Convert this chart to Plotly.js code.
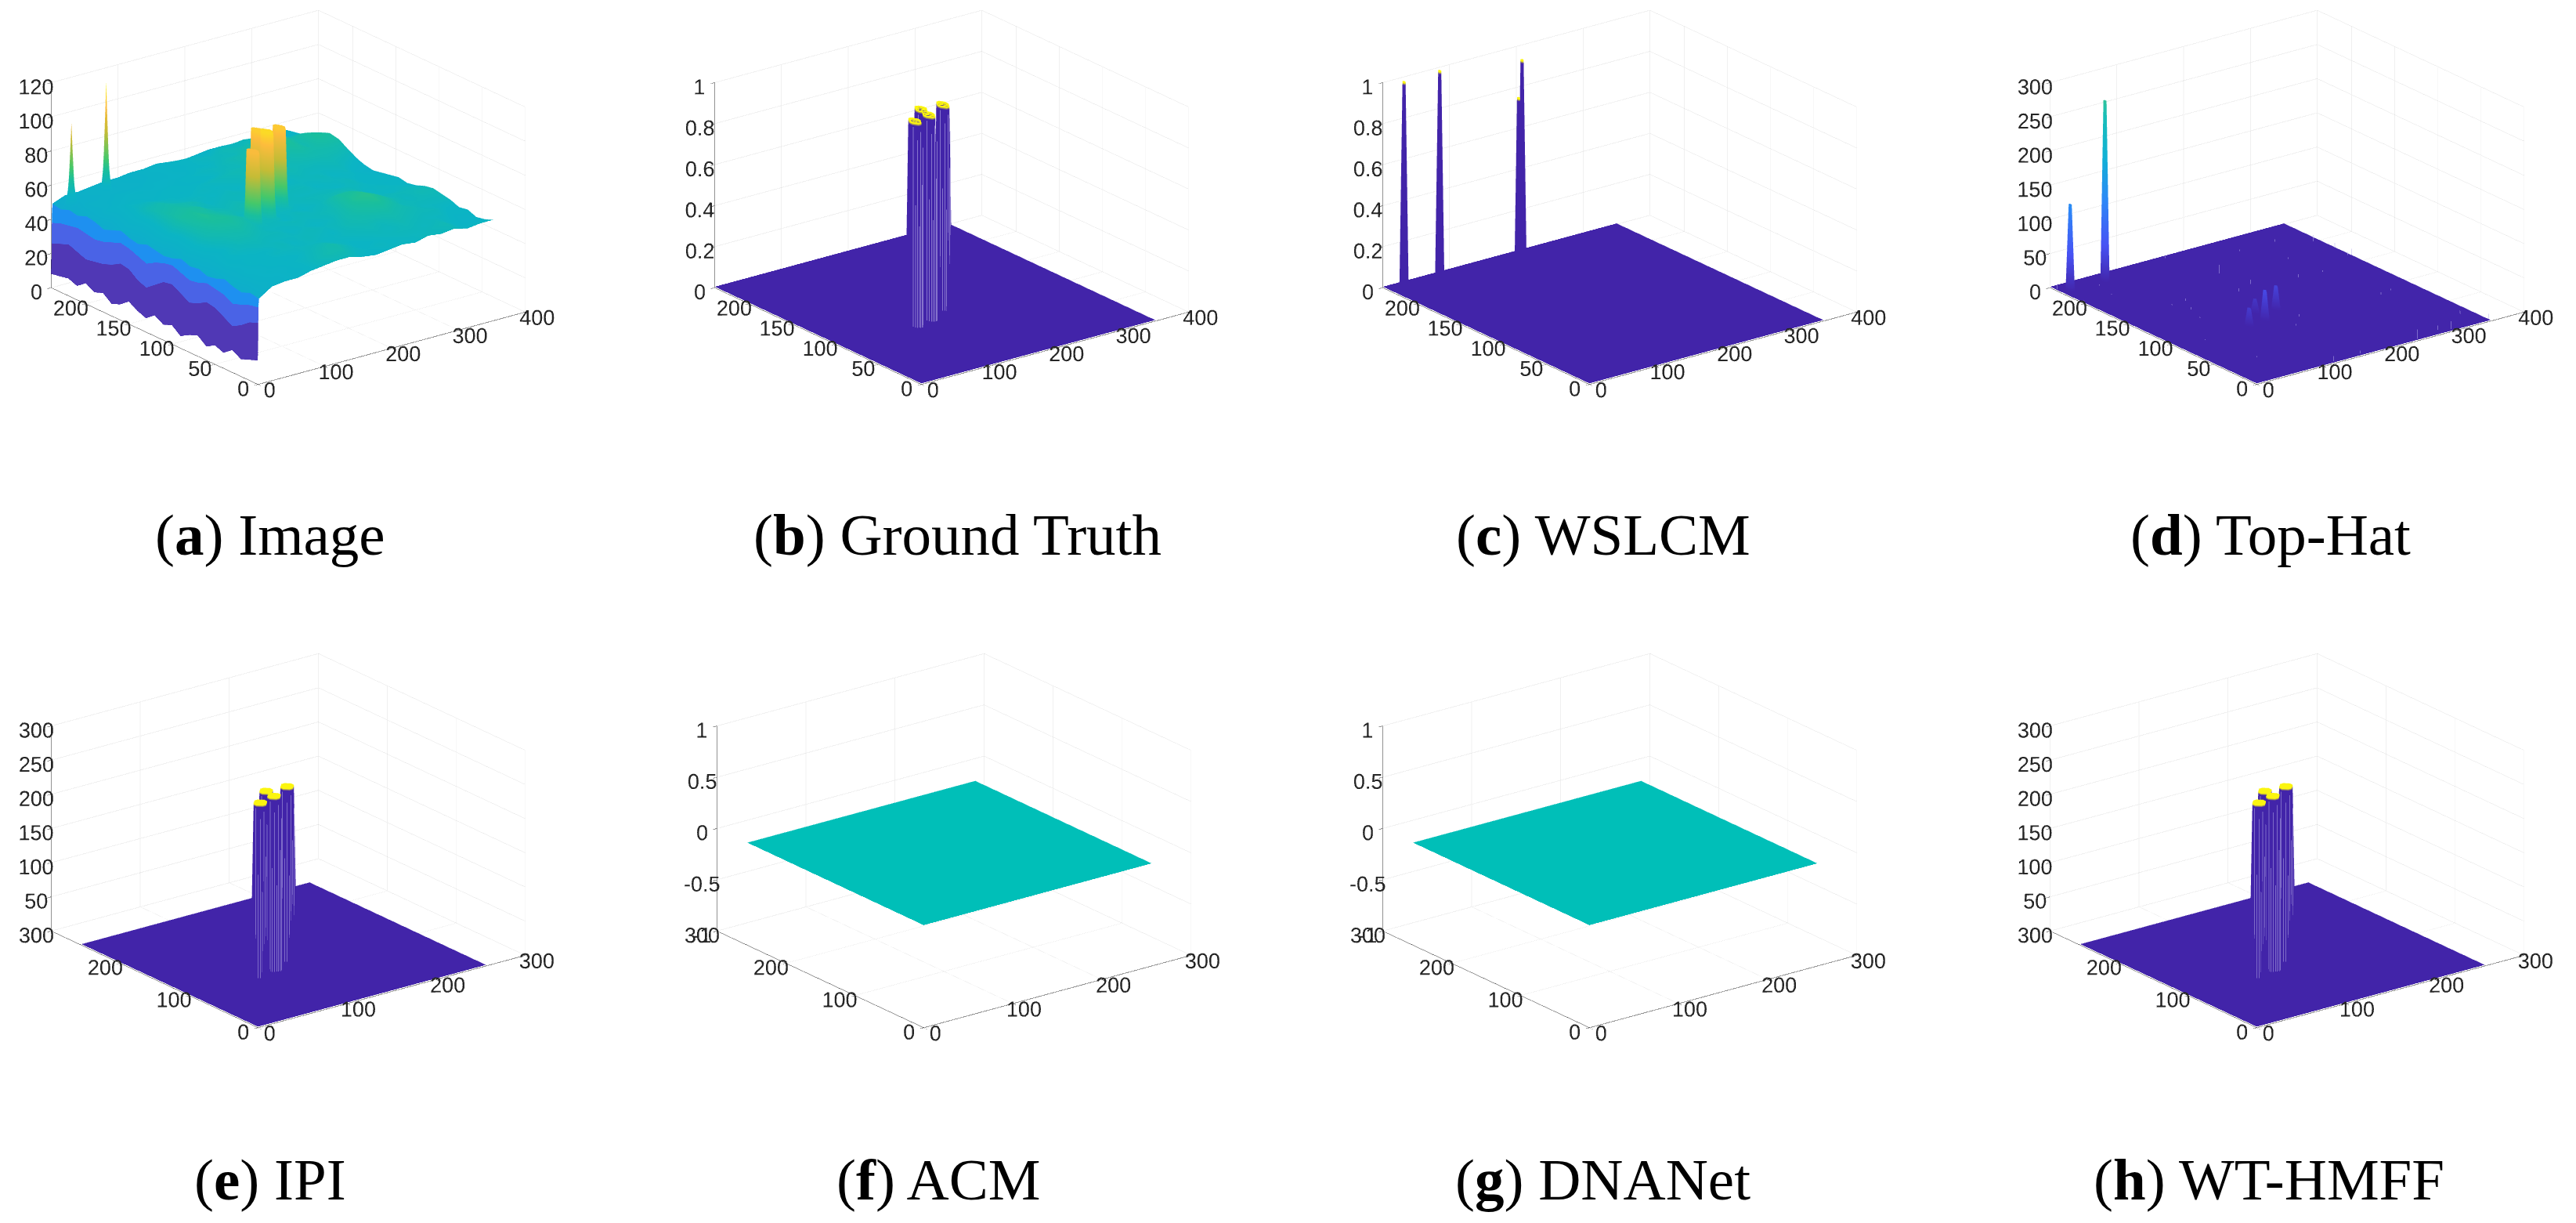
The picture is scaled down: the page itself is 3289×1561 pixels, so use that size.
<!DOCTYPE html>
<html><head><meta charset="utf-8">
<script src="https://cdn.plot.ly/plotly-3.0.1.min.js"></script>
<style>html,body{margin:0;padding:0;background:#fff;overflow:hidden}#p{width:3289px;height:1561px}</style>
</head><body><div id="p"></div>
<script>
const captions=['a','b','c','d','e','f','g','h'];
const captionNames=['Image','Ground Truth','WSLCM','Top-Hat','IPI','ACM','DNANet','WT-HMFF'];
const imgY=[0,10,20,30,40,50,60,70,80,90,100,110,120,130,140,150,160,170,180,190,200,210,220,230,240];
const imgX=[1.5,21,40.5,60,79.5,99,118.5,138,157.5,177,196.5,216,235.5,255,274.5,294,313.5,333,352.5];
const imgZ=[
[50,51,49,50,52,50,49,51,50,52,50,49,50,51,49,50,52,50,48,50,51,49,50,48,49],
[55,54,55,56,55,57,56,55,57,58,57,56,58,57,56,55,56,55,54,55,53,54,52,53,52],
[56,55,57,56,58,57,59,58,60,62,63,64,65,64,63,62,61,59,58,56,55,54,53,54,52],
[56,57,56,58,57,58,59,61,62,64,66,67,66,65,64,63,62,60,58,57,56,55,54,55,53],
[58,57,58,57,59,58,60,61,63,65,66,65,64,65,63,62,60,59,57,56,57,55,54,53,54],
[59,60,59,58,59,60,59,60,61,63,64,63,62,61,60,61,59,58,58,57,56,55,54,55,54],
[60,62,61,60,59,58,59,60,59,60,61,60,61,60,59,58,59,58,57,58,56,56,55,54,55],
[60,62,63,61,59,60,59,58,59,60,61,60,62,61,60,59,58,59,58,57,57,56,55,56,55],
[58,59,60,59,58,59,60,59,60,58,59,60,61,60,59,60,59,58,59,57,58,56,57,56,56],
[57,58,57,58,59,58,59,58,59,60,59,60,59,61,60,59,58,59,60,58,59,58,57,58,55],
[58,59,58,59,60,61,60,59,60,59,58,59,60,59,61,60,59,60,61,60,59,58,59,58,54],
[59,58,59,60,61,62,63,62,61,60,59,60,59,60,59,60,61,62,61,60,61,60,59,57,55],
[58,59,60,59,60,63,65,67,66,65,61,60,59,60,59,58,60,61,62,63,62,60,61,59,56],
[60,59,60,61,62,64,67,68,67,65,62,60,59,58,59,60,61,60,61,62,64,63,60,59,56],
[59,60,59,60,61,62,64,65,64,62,61,60,58,59,60,59,60,61,62,65,66,64,61,60,55],
[60,61,60,59,60,61,60,61,60,59,58,59,60,59,58,59,60,62,64,66,67,65,62,59,54],
[58,57,58,59,60,59,60,59,60,58,59,58,57,58,59,60,61,62,63,62,63,61,58,57,55],
[59,57,56,57,58,59,60,61,60,59,58,57,58,57,56,58,60,62,64,66,65,62,58,56,55],
[59,57,56,58,57,59,60,61,60,58,57,58,57,56,55,56,58,61,64,65,63,60,57,56,55]];
const wallBottom=[14,12,10,13,9,11,8,12,10,7,11,9,12,8,10,13,9,7,11,9,12,8,10,9,8];
const wallPurple=[36,34,30,27,30,33,34,31,29,32,35,34,30,26,28,32,33,30,28,27,26,28,30,28,26];
const wallBlue=[45,44,42,40,43,44,45,43,42,44,46,45,43,40,42,44,45,43,41,40,41,42,41,40,38];
const imgSpikeX=[11,63], imgSpikeY=[225,225], imgSpikeZ=[99,118];
const spikeProfX=[0,.1,.25,.45,1,.45,.25,.1,0], spikeProfY=[0,.5,1,.5,0];
const gtX=[114,140,144,174], gtY=[95,99,112,110];
const imgTargetZ=[102,110,107,106];
const wslcmX=[24,79,100,180], wslcmY=[233,236,160,218], wslcmZ=[1,1,1,1];
const topHatX=[11,63], topHatY=[225,225], topHatZ=[128,266];
const topHatBlobX=[110,141,136,167], topHatBlobY=[93,112,96,108], topHatBlobZ=[27,21,45,36];
const speckX=[188,341,349,350,346,350,295,243,280,118,159,196,254,298,2,167,1,100,87,79,78,304,252,282,288,169,315,334,176,154,39,53,50,42];
const speckY=[189,199,180,161,163,2,3,2,7,2,3,159,149,87,233,236,201,160,144,127,159,215,215,182,147,152,89,23,87,74,90,41,221,201];
const speckZ=[14,11,9,11,6,10,13,15,8,9,6,8,6,5,9,5,4,5,5,3,3,5,4,4,4,6,4,6,5,4,3,3,3,3];
const ipiX=[80,102,100,124], ipiY=[100,120,105,118], ipiZ=[255,255,255,255];
const stripeDX=[-7,-6,-4.5,-3,-1.5,.5,2], stripeDY=[-2.5,-4.5,-6,-6.8,-7.3,-7.5,-7.2], stripeTop=[.98,.6,.92,.5,.96,.7,.88];
const xTicks400=[0,100,200,300,400], yTicks240=[0,50,100,150,200], xyTicks300=[0,100,200,300];
const zTicksImg=[0,20,40,60,80,100,120], zTicks1=[0,0.2,0.4,0.6,0.8,1], zTicks300=[0,50,100,150,200,250,300], zTicksFlat=[-1,-0.5,0,0.5,1];
const zLabelsFlat=['-1','-0.5','0','0.5','1'];
const discMask=[[0,0,1,1,1,0,0],[0,1,1,1,1,1,0],[1,1,1,1,1,1,1],[1,1,1,1,1,1,1],[1,1,1,1,1,1,1],[0,1,1,1,1,1,0],[0,0,1,1,1,0,0]];
const pinMask=[[1,1],[1,1]];
const crossMask=[[0,1,0],[1,1,1],[0,1,0]];
const plane0=[[0,0],[0,0]];

const W=3289,H=1561;
const parula=[[0,'#4224a9'],[.11,'#4752f4'],[.24,'#2d87f7'],[.365,'#11b1d6'],[.49,'#19bfb7'],[.62,'#5cc863'],[.75,'#c4bc36'],[.875,'#fdbc3c'],[1,'#f9fb0e']];
const imgScale=[[0,'#4224a9'],[.11,'#4752f4'],[.24,'#2d87f7'],[.365,'#11a8d0'],[.49,'#0bb4c4'],[.56,'#1abf9c'],[.62,'#45c86a'],[.75,'#c4bc36'],[.875,'#fdbc3c'],[1,'#f9fb0e']];
const baseScale=[[0,'#4224a9'],[.985,'#4224a9'],[.995,'#fbf50f'],[1,'#fbf50f']];
const wallScale=[[0,'#5038b5'],[.333,'#5038b5'],[.334,'#4a63e6'],[.666,'#4a63e6'],[.667,'#1e90f0'],[1,'#1e90f0']];
const light={ambient:1,diffuse:0,specular:0,roughness:1,fresnel:0};
const noHi={x:{highlight:false},y:{highlight:false},z:{highlight:false}};
const common={type:'surface',showscale:false,lighting:light,hoverinfo:'skip',contours:noHi};
const T=m=>m[0].map((_,j)=>m.map(r=>r[j]));
function axisGrid(a,b,s){const o=[];for(let v=a;v<=b;v+=s)o.push(v);return o;}
function fill(xs,ys,v){return ys.map(()=>xs.map(()=>v));}
function stamp(z,xs,ys,cx,cy,mask,top){
  const i0=Math.round((cx-xs[0])/(xs[1]-xs[0])),j0=Math.round((cy-ys[0])/(ys[1]-ys[0]));
  const o=Math.floor(mask.length/2);
  mask.forEach((r,a)=>r.forEach((m,b)=>{if(m){const row=z[j0+a-o];if(row&&(i0+b-o)<row.length&&(i0+b-o)>=0)row[i0+b-o]=top;}}));
}
function plane(sc,x,y,z,cs,cmin,cmax,extra){return Object.assign({},common,{scene:sc,x,y,z,colorscale:cs,cmin,cmax},extra||{});}
function solid(c){return [[0,c],[1,c]];}
function vlines(sc,xs,ys,z0,z1,color,width){
  const X=[],Y=[],Z=[];
  xs.forEach((_,i)=>{X.push(xs[i],xs[i],null);Y.push(ys[i],ys[i],null);Z.push(z0,z1[i],null);});
  return {type:'scatter3d',mode:'lines',scene:sc,x:X,y:Y,z:Z,line:{color,width},hoverinfo:'skip',showlegend:false};
}
function stripes(sc,cxs,cys,top,color){
  const xs=[],ys=[],zs=[];
  cxs.forEach((cx,i)=>stripeDX.forEach((d,k)=>{xs.push(cx+d);ys.push(cys[i]+stripeDY[k]);zs.push(top*stripeTop[k]);}));
  return vlines(sc,xs,ys,top*.005,zs,color,1);
}
const traces=[];
// (a)
traces.push(plane('scene',imgX,imgY,T(imgZ),imgScale,0,118));
{ const rows=[wallBottom,wallPurple,wallBlue,imgZ[0]];
  traces.push(plane('scene',[0,.5,1,1.5],imgY,T(rows),wallScale,0,3,{surfacecolor:T(rows.map((r,k)=>r.map(()=>k)))})); }
{ const xs=axisGrid(3,191,2), ys=axisGrid(79,229,2), z=fill(xs,ys,null);
  imgSpikeX.forEach((cx,n)=>{const i0=(cx-xs[0])/2,j0=(imgSpikeY[n]-ys[0])/2;spikeProfY.forEach((py,j)=>spikeProfX.forEach((px,i)=>{z[j0+j-2][i0+i-4]=50+(imgSpikeZ[n]-50)*px*py;}));});
  gtX.forEach((cx,n)=>{const m=[];for(let a=0;a<11;a++)m.push([1,1,1,1,1,1,1,1,1,1,1]);stamp(z,xs,ys,cx,gtY[n],m,60);});
  gtX.forEach((cx,n)=>stamp(z,xs,ys,cx,gtY[n],discMask,imgTargetZ[n]));
  traces.push(plane('scene',xs,ys,z,imgScale,0,118)); }
// grids for flat maps
const gx350=axisGrid(0,350,2), gy240=axisGrid(0,240,2), g256=axisGrid(0,256,2);
// (b)
{ const z=fill(gx350,gy240,.005); gtX.forEach((cx,i)=>stamp(z,gx350,gy240,cx,gtY[i],discMask,1));
  traces.push(plane('scene2',gx350,gy240,z,baseScale,0,1));
  traces.push(stripes('scene2',gtX,gtY,1,'#c9c2ee')); }
// (c)
{ const z=fill(gx350,gy240,.005); wslcmX.forEach((cx,i)=>stamp(z,gx350,gy240,cx,wslcmY[i],pinMask,wslcmZ[i]));
  traces.push(plane('scene3',gx350,gy240,z,baseScale,0,1)); }
// (d)
{ const z=fill(gx350,gy240,1.5); topHatX.forEach((cx,i)=>stamp(z,gx350,gy240,cx,topHatY[i],pinMask,topHatZ[i]));
  topHatBlobX.forEach((cx,i)=>stamp(z,gx350,gy240,cx,topHatBlobY[i],crossMask,topHatBlobZ[i]));
  traces.push(plane('scene4',gx350,gy240,z,parula,0,500));
  traces.push(vlines('scene4',speckX,speckY,1.5,speckZ,'#b9b0ee',1)); }
// (e) (h)
['scene5','scene8'].forEach(s=>{
  const z=fill(g256,g256,1.5); ipiX.forEach((cx,i)=>stamp(z,g256,g256,cx,ipiY[i],discMask,ipiZ[i]));
  traces.push(plane(s,g256,g256,z,baseScale,0,255));
  traces.push(stripes(s,ipiX,ipiY,255,'#b9b2e6'));
});
// (f) (g)
const teal=solid('#00bfb8');
traces.push(plane('scene6',[0,256],[0,256],plane0,teal,-1,1));
traces.push(plane('scene7',[0,256],[0,256],plane0,teal,-1,1));

const tf={family:'Liberation Sans, Arial, sans-serif',size:18,color:'#262626'};
function ax(range,tickvals,line,labels){const a={range,tickvals,tickmode:'array',tickangle:0,title:{text:''},tickfont:tf,gridcolor:'#e2e2e2',gridwidth:1,showline:line!==false,linecolor:'#262626',linewidth:1,ticks:'outside',ticklen:6,tickcolor:'#262626',tickwidth:1,zeroline:false,showbackground:false,showspikes:false,autorange:false};if(labels)a.ticktext=labels;return a;}
const DIST=3, ZOOM=1.5315;
const dirE=[-.566,-.7438,.3558];
function scene(cx,cy,xa,ya,za,shift){
  const hw=365,hh=280;
  return {domain:{x:[(cx-hw)/W,(cx+hw)/W],y:[1-(cy+hh)/H,1-(cy-hh)/H]},
    xaxis:xa,yaxis:ya,zaxis:za,
    aspectmode:'manual',aspectratio:{x:ZOOM,y:1.017*ZOOM,z:.653*ZOOM},bgcolor:'rgba(0,0,0,0)',
    camera:{projection:{type:'orthographic'},eye:{x:dirE[0]*DIST,y:dirE[1]*DIST,z:dirE[2]*DIST+shift},center:{x:0,y:0,z:shift},up:{x:0,y:0,z:1}}};
}
const sh=-.1073;
const layout={width:W,height:H,margin:{l:0,r:0,t:0,b:0},paper_bgcolor:'#fff',showlegend:false,
 scene:scene(367.5,280,ax([0,400],xTicks400),ax([0,240],yTicks240),ax([0,120],zTicksImg),sh),
 scene2:scene(1215,280,ax([0,400],xTicks400),ax([0,240],yTicks240),ax([0,1],zTicks1),sh),
 scene3:scene(2067.5,280,ax([0,400],xTicks400),ax([0,240],yTicks240),ax([0,1],zTicks1),sh),
 scene4:scene(2919.5,280,ax([0,400],xTicks400),ax([0,240],yTicks240),ax([0,300],zTicks300,false),sh),
 scene5:scene(367.5,1073,ax([0,300],xyTicks300),ax([0,300],xyTicks300),ax([0,300],zTicks300),0),
 scene6:scene(1217.5,1073,ax([0,300],xyTicks300),ax([0,300],xyTicks300),ax([-1,1],zTicksFlat,true,zLabelsFlat),0),
 scene7:scene(2067.5,1073,ax([0,300],xyTicks300),ax([0,300],xyTicks300),ax([-1,1],zTicksFlat,true,zLabelsFlat),0),
 scene8:scene(2919.5,1073,ax([0,300],xyTicks300),ax([0,300],xyTicks300),ax([0,300],zTicks300,false),0),
 annotations:[]};
const capCx=[345,1222,2047,2899,345,1198,2046,2897], capRow=[682,682,682,682,1505,1505,1505,1505];
captions.forEach((c,i)=>layout.annotations.push({xref:'paper',yref:'paper',x:capCx[i]/W,y:1-capRow[i]/H,xanchor:'center',yanchor:'middle',showarrow:false,
  text:'(<b>'+c+'</b>) '+captionNames[i],font:{family:'Liberation Serif, serif',size:75,color:'#000'}}));
setTimeout(()=>{
  const gd=document.getElementById('p');
  Plotly.newPlot(gd,traces,layout,{displayModeBar:false,plotGlPixelRatio:1});
  const px=new Uint8Array(4);
  ['scene','scene2','scene3','scene4','scene5','scene6','scene7','scene8'].forEach(k=>{
    const s=gd._fullLayout[k]&&gd._fullLayout[k]._scene;
    if(s&&s.glplot){
      s.glplot.redraw();
      const gl=s.glplot.gl;
      if(gl)gl.readPixels(0,0,1,1,gl.RGBA,gl.UNSIGNED_BYTE,px);
    }
  });
},30);
</script></body></html>
